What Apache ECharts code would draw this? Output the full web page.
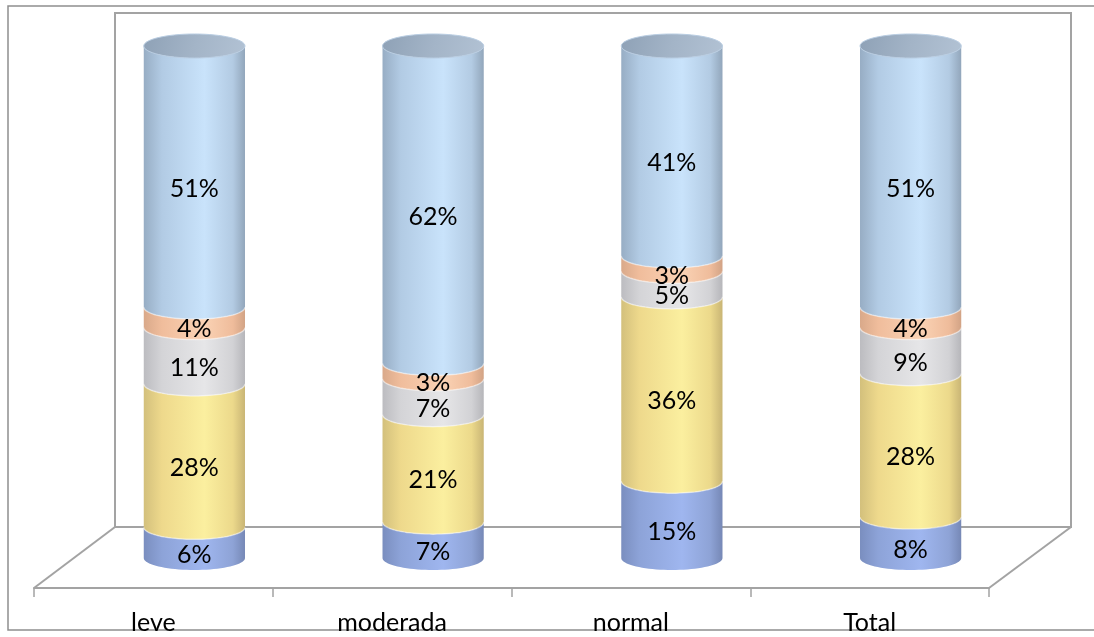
<!DOCTYPE html>
<html>
<head>
<meta charset="utf-8">
<script src="https://cdn.jsdelivr.net/npm/echarts@6/dist/echarts.min.js"></script>
<style>
  html, body { margin: 0; padding: 0; background: #ffffff; }
  #chart { width: 1094px; height: 637px; }
</style>
</head>
<body>
<div id="chart"></div>
<script>
// Categories and stacked percentage shares (bottom to top)
const categories = ['leve', 'moderada', 'normal', 'Total'];
const serie1 = [6, 7, 15, 8];      // blue (bottom)
const serie2 = [28, 21, 36, 28];   // yellow
const serie3 = [11, 7, 5, 9];      // grey
const serie4 = [4, 3, 3, 4];       // peach
const serie5 = [51, 62, 41, 51];   // light blue (top)

const layers = [serie1, serie2, serie3, serie4, serie5];

// Horizontal shading for each cylinder layer
const shades = [
  ['#7a8ebf', '#8da3d8', '#9fb6ef', '#8ea3d6', '#7688b6'],
  ['#d3c07c', '#eed98c', '#fbef9f', '#ecd98b', '#c9b575'],
  ['#bcbcc0', '#d4d4d7', '#e6e6e8', '#d2d2d5', '#b6b6ba'],
  ['#d9a98a', '#f0bd9c', '#fad2b4', '#efbc9b', '#d2a385'],
  ['#97adc4', '#b2cbe4', '#c9e3fb', '#b3cbe3', '#92a6bb']
];

function sideGradient(c) {
  return new echarts.graphic.LinearGradient(0, 0, 1, 0, [
    { offset: 0, color: c[0] },
    { offset: 0.18, color: c[1] },
    { offset: 0.6, color: c[2] },
    { offset: 0.88, color: c[3] },
    { offset: 1, color: c[4] }
  ]);
}

const RY = 12;

// Lower half of an ellipse, sampled from left to right
function lowerArc(cx, cy, rx, ry) {
  const pts = [];
  const n = 40;
  for (let i = 0; i <= n; i++) {
    const t = Math.PI - (Math.PI * i) / n;
    pts.push([cx + rx * Math.cos(t), cy + ry * Math.sin(t)]);
  }
  return pts;
}

// Cumulative bounds per layer
const cumulative = categories.map(() => 0);
const layerData = layers.map((vals) => {
  return vals.map((v, i) => {
    const lo = cumulative[i];
    const hi = lo + v;
    cumulative[i] = hi;
    return [i, lo, hi, v];
  });
});

function makeRenderer(layerIndex) {
  const isTop = layerIndex === layers.length - 1;
  return function (params, api) {
    const idx = api.value(0);
    const lo = api.value(1);
    const hi = api.value(2);
    const val = api.value(3);
    const pLo = api.coord([idx, lo]);
    const pHi = api.coord([idx, hi]);
    const cx = pLo[0];
    const rx = api.size([1, 0])[0] * 0.212;
    const top = lowerArc(cx, pHi[1], rx, RY);
    const bottom = lowerArc(cx, pLo[1], rx, RY).reverse();
    const children = [{
      type: 'polygon',
      shape: { points: top.concat(bottom) },
      style: { fill: sideGradient(shades[layerIndex]) }
    }];
    if (layerIndex > 0) {
      children.push({
        type: 'polyline',
        shape: { points: lowerArc(cx, pLo[1], rx, RY) },
        style: { stroke: 'rgba(255,255,255,0.45)', lineWidth: 1.5, fill: null }
      });
    }
    if (isTop) {
      children.push({
        type: 'ellipse',
        shape: { cx: cx, cy: pHi[1], rx: rx, ry: RY },
        style: {
          fill: new echarts.graphic.LinearGradient(0, 0, 1, 1, [
            { offset: 0, color: '#8ea1b6' },
            { offset: 0.5, color: '#a3b4c7' },
            { offset: 1, color: '#b2c2d4' }
          ]),
          stroke: '#b9cde2',
          lineWidth: 1
        }
      });
    }
    children.push({
      type: 'text',
      style: {
        text: val + '%',
        x: cx,
        y: (pLo[1] + pHi[1]) / 2 + RY,
        align: 'center',
        verticalAlign: 'middle',
        fontSize: 25,
        fontFamily: 'Lato',
        fill: '#000000'
      },
      z2: 10
    });
    return { type: 'group', children: children };
  };
}

const chart = echarts.init(document.getElementById('chart'), null, { renderer: 'canvas' });

const series = layerData.map((data, k) => ({
  type: 'custom',
  xAxisIndex: 1,
  yAxisIndex: 1,
  renderItem: makeRenderer(k),
  data: data,
  encode: { x: 0, y: [1, 2] },
  z: 3,
  silent: true
}));

const lineColor = '#a3a3a3';

chart.setOption({
  animation: false,
  backgroundColor: '#ffffff',
  grid: [
    { left: 34, right: 105, top: 46, bottom: 49 },
    { left: 75, right: 64, top: 46, bottom: 79 }
  ],
  xAxis: [
    {
      type: 'category',
      gridIndex: 0,
      data: categories,
      boundaryGap: true,
      axisLine: { lineStyle: { color: lineColor, width: 2 } },
      axisTick: { show: true, length: 9, lineStyle: { color: lineColor, width: 1.5 } },
      axisLabel: { color: '#000000', fontSize: 25, fontFamily: 'Lato', margin: 22 },
      splitLine: { show: false },
      z: 5
    },
    {
      type: 'category',
      gridIndex: 1,
      data: categories,
      show: false
    }
  ],
  yAxis: [
    { type: 'value', gridIndex: 0, min: 0, max: 100, show: false },
    { type: 'value', gridIndex: 1, min: 0, max: 100, show: false }
  ],
  graphic: [
    {
      type: 'rect',
      shape: { x: 8, y: 6, width: 1100, height: 624 },
      style: { fill: null, stroke: '#8e8e8e', lineWidth: 1.5 },
      z: 0
    },
    {
      type: 'polyline',
      shape: { points: [[115, 527], [115, 13], [1071, 13], [1071, 527], [115, 527]] },
      style: { fill: null, stroke: lineColor, lineWidth: 2 },
      z: 0
    },
    {
      type: 'line',
      shape: { x1: 115, y1: 527, x2: 34, y2: 588 },
      style: { stroke: lineColor, lineWidth: 2 },
      z: 0
    },
    {
      type: 'line',
      shape: { x1: 1071, y1: 527, x2: 989, y2: 588 },
      style: { stroke: lineColor, lineWidth: 2 },
      z: 0
    }
  ],
  series: series
});
</script>
</body>
</html>
